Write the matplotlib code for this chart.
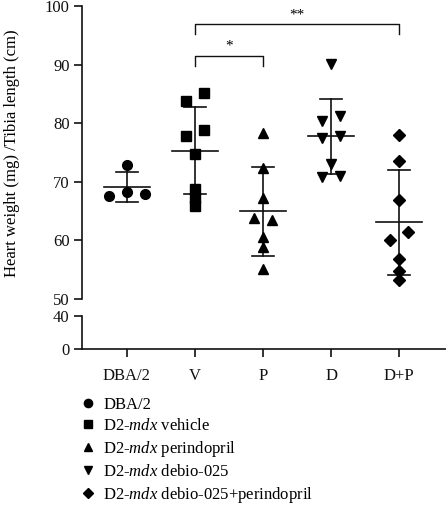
import numpy as np
import matplotlib.pyplot as plt
from matplotlib.lines import Line2D

plt.rcParams['font.family'] = ['Liberation Serif', 'DejaVu Serif']
plt.rcParams['mathtext.fontset'] = 'custom'
plt.rcParams['mathtext.rm'] = 'Liberation Serif'
plt.rcParams['mathtext.it'] = 'Liberation Serif:italic'

groups = ['DBA/2', 'V', 'P', 'D', 'D+P']
markers = ['o', 's', '^', 'v', 'D']
legend_labels = ['DBA/2', r'D2-$mdx$ vehicle', r'D2-$mdx$ perindopril',
                 r'D2-$mdx$ debio-025', r'D2-$mdx$ debio-025+perindopril']

dba = [72.9, 68.2, 67.5, 68.0]
veh = [85.2, 83.8, 78.8, 77.9, 74.8, 68.8, 67.2, 65.8]
per = [78.4, 72.3, 67.2, 63.9, 63.4, 60.5, 58.8, 55.1]
deb = [90.1, 80.4, 81.3, 77.5, 77.8, 73.0, 70.9, 71.0]
dp = [78.0, 73.6, 66.9, 61.5, 60.1, 56.9, 54.8, 53.2]
data = [dba, veh, per, deb, dp]

# horizontal jitter (-1 left, 0 centre, 1 right)
offsets = [
    [0, 0, -2, 2],
    [1, -1, 1, -1, 0, 0, 0, 0],
    [0, 0, 0, -1, 1, 0, 0, 0],
    [0, -1, 1, -1, 1, 0, -1, 1],
    [0, 0, 0, 1, -1, 0, 0, 0],
]
msizes = [7, 7, 7.5, 7.5, 6]

W, H = 446, 508
fig = plt.figure(figsize=(W / 100, H / 100), dpi=100)
left, right = 82 / W, 446 / W
ax = fig.add_axes([left, (H - 299) / H, right - left, 293 / H])
ax2 = fig.add_axes([left, (H - 349) / H, right - left, 33 / H])

xs = np.arange(1, 6)
col = '#111111'
for i, vals in enumerate(data):
    vals = np.array(vals)
    m, sd = vals.mean(), vals.std(ddof=1)
    x = xs[i] + np.array(offsets[i]) * 0.135
    ax.plot(x, vals, markers[i], color='black', ms=msizes[i], ls='none', clip_on=False, zorder=3)
    ax.plot([xs[i] - 0.34, xs[i] + 0.34], [m, m], color=col, lw=1.2)
    ax.plot([xs[i], xs[i]], [m - sd, m + sd], color=col, lw=1.2)
    for yv in (m - sd, m + sd):
        ax.plot([xs[i] - 0.16, xs[i] + 0.16], [yv, yv], color=col, lw=1.2)

# significance brackets
ax.plot([2, 2, 3, 3], [89.8, 91.5, 91.5, 89.8], color=col, lw=1.0, clip_on=False)
ax.text(2.5, 92.0, '*', ha='center', va='bottom', fontsize=11)
ax.plot([2, 2, 5, 5], [95.2, 96.9, 96.9, 95.2], color=col, lw=1.0, clip_on=False)
ax.text(3.5, 97.4, '**', ha='center', va='bottom', fontsize=11)

xlim = (0.34, 5.69)
ax.set_xlim(*xlim)
ax.set_ylim(50, 100)
ax.set_yticks([50, 60, 70, 80, 90, 100])
ax.set_xticks([])
for s in ['top', 'right', 'bottom']:
    ax.spines[s].set_visible(False)

ax2.set_xlim(*xlim)
ax2.set_ylim(0, 40)
ax2.set_yticks([0, 40])
ax2.set_xticks(xs)
ax2.set_xticklabels(groups)
for s in ['top', 'right']:
    ax2.spines[s].set_visible(False)

for a in (ax, ax2):
    a.patch.set_alpha(0)
    for s in a.spines.values():
        s.set_linewidth(1.2)
        s.set_color(col)
    a.tick_params(direction='out', length=6, width=1.2, labelsize=12, colors=col, pad=3)
ax2.tick_params(axis='x', length=6, pad=8)

fig.text(12 / W, 1 - 153 / H, 'Heart weight (mg) /Tibia length (cm)', rotation=90,
         ha='center', va='center', fontsize=12)

handles = [Line2D([], [], marker=mk, color='black', ls='none', ms=ms * 0.85)
           for mk, ms in zip(markers, msizes)]
fig.legend(handles, legend_labels, loc='upper left', bbox_to_anchor=(80 / W, 1 - 397 / H),
           frameon=False, fontsize=12, handletextpad=0.4, labelspacing=0.3,
           handlelength=1.0, borderaxespad=0, borderpad=0)

fig.savefig('out.png', dpi=100)
